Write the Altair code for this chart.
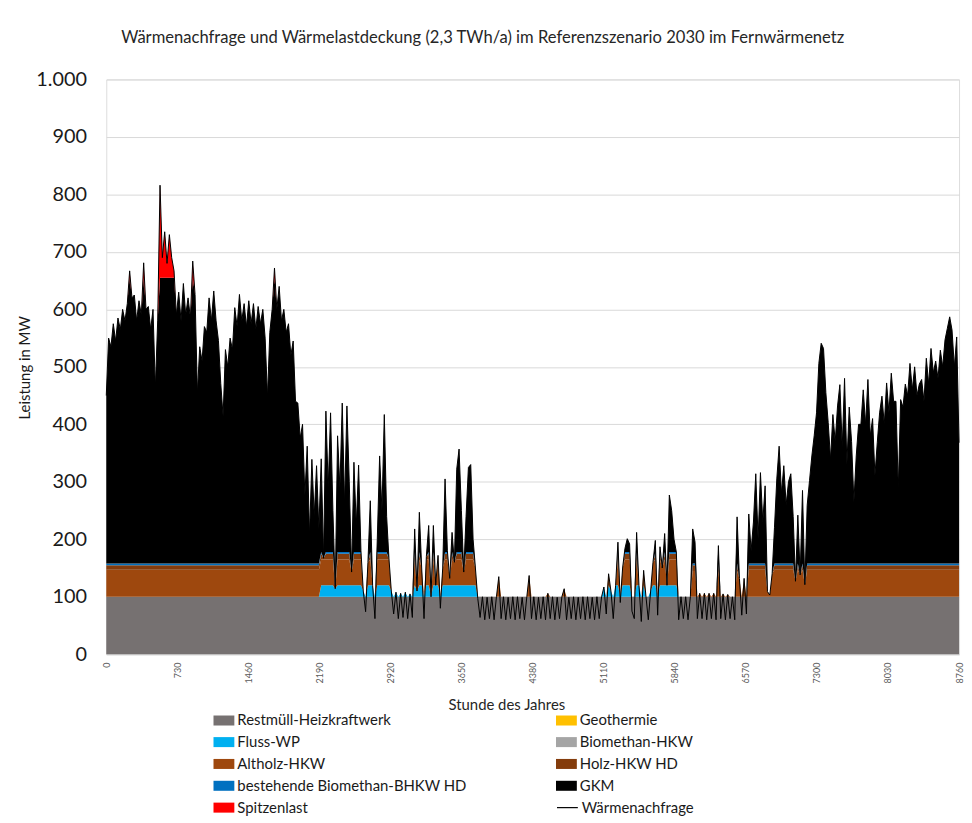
import altair as alt
import pandas as pd

# Heat demand (MW), one value per day (hour = 24 * day index)
demand = [
    450, 550, 535, 575, 545, 585, 565, 600, 580, 610, 667, 620, 625, 580, 615, 590, 681, 600, 605, 565, 600, 463, 580, 816, 690, 735, 680, 730, 690, 667,
    590, 630, 580, 645, 590, 620, 585, 684, 626, 454, 535, 510, 570, 560, 620, 580, 632, 580, 546, 471, 414, 530, 500, 550, 530, 603, 570, 626, 580, 610,
    570, 615, 575, 610, 565, 605, 575, 600, 550, 448, 560, 600, 672, 600, 640, 580, 600, 560, 575, 520, 545, 440, 437, 376, 400, 276, 362, 207, 339, 241,
    328, 218, 340, 167, 423, 290, 420, 250, 114, 380, 290, 437, 260, 432, 300, 143, 334, 224, 329, 180, 110, 74, 160, 267, 120, 62, 200, 345, 250, 417,
    240, 166, 110, 70, 108, 62, 106, 64, 108, 62, 105, 64, 218, 110, 247, 150, 62, 170, 224, 100, 224, 120, 172, 80, 150, 305, 180, 132, 212, 160,
    322, 357, 250, 143, 240, 325, 330, 200, 150, 97, 64, 100, 60, 99, 62, 100, 60, 100, 135, 62, 100, 60, 99, 62, 100, 60, 100, 62, 99, 60,
    100, 137, 62, 100, 60, 99, 62, 100, 60, 106, 62, 100, 60, 99, 62, 100, 114, 60, 99, 62, 100, 60, 99, 62, 100, 60, 100, 62, 99, 60,
    100, 62, 100, 117, 70, 140, 110, 62, 120, 195, 90, 150, 184, 201, 192, 75, 62, 212, 120, 57, 146, 100, 60, 110, 160, 198, 68, 187, 150, 210,
    120, 277, 250, 200, 178, 60, 100, 62, 100, 60, 100, 218, 195, 62, 106, 62, 106, 60, 106, 62, 106, 60, 189, 62, 105, 60, 104, 62, 100, 60,
    239, 132, 68, 132, 70, 244, 180, 230, 314, 200, 316, 230, 293, 109, 103, 140, 220, 305, 362, 280, 328, 260, 300, 314, 240, 127, 242, 138, 285, 121,
    259, 302, 345, 380, 420, 506, 541, 532, 455, 403, 339, 417, 370, 432, 469, 360, 480, 330, 430, 370, 265, 345, 400, 400, 460, 400, 478, 380, 410, 311,
    368, 420, 449, 400, 472, 420, 489, 440, 440, 288, 443, 430, 470, 450, 506, 460, 500, 450, 470, 478, 440, 515, 470, 532, 490, 510, 480, 529, 500, 547,
    567, 587, 564, 500, 552, 368,
]
hours = [24 * i for i in range(len(demand))]

# Capacities (MW) of the supply units per period of the year
period_start = [0, 2190, 3820, 5110, 5900, 6600]
restmuell_cap = [100, 100, 100, 100, 100, 100]
fluss_cap = [0, 20, 0, 20, 0, 0]
altholz_cap = [47, 45, 45, 45, 45, 47]
holz_cap = [8, 10, 10, 10, 10, 8]
biomethan_bhkw_cap = [3, 3, 3, 3, 3, 3]
gkm_cap = [497, 497, 497, 497, 497, 497]

# legend entries, listed column by column (left column first)
legend_order = [
    "Restmüll-Heizkraftwerk", "Fluss-WP", "Altholz-HKW",
    "bestehende Biomethan-BHKW HD", "Spitzenlast",
    "Geothermie", "Biomethan-HKW", "Holz-HKW HD", "GKM",
]
legend_colors = [
    "#767171", "#00B0F0", "#9E480E",
    "#0070C0", "#FF0000",
    "#FFC000", "#A5A5A5", "#843C0C", "#000000",
]
demand_label = "Wärmenachfrage"

rows = []
for h, d in zip(hours, demand):
    p = max(i for i, s in enumerate(period_start) if s <= h)
    units = [
        ("Restmüll-Heizkraftwerk", restmuell_cap[p]),
        ("Fluss-WP", fluss_cap[p]),
        ("Altholz-HKW", altholz_cap[p]),
        ("Holz-HKW HD", holz_cap[p]),
        ("bestehende Biomethan-BHKW HD", biomethan_bhkw_cap[p]),
        ("GKM", gkm_cap[p]),
        ("Spitzenlast", 10000),
    ]
    lo = 0
    for k, (name, cap) in enumerate(units):
        if k == 0:
            val = cap
        else:
            val = min(cap, max(0, d - lo))
        rows.append({"hour": h, "layer": name, "lo": lo, "hi": lo + val})
        lo += val

stack_df = pd.DataFrame(rows)
demand_df = pd.DataFrame({"hour": hours, "demand": demand, "series": [demand_label] * len(hours)})

FONT = "Lato"

x_axis = alt.Axis(
    values=[0, 730, 1460, 2190, 2920, 3650, 4380, 5110, 5840, 6570, 7300, 8030, 8760],
    format="d",
    labelAngle=270, labelFontSize=9, labelColor="#595959", labelFont=FONT,
    labelPadding=8, ticks=False, grid=False, domainColor="#D9D9D9",
    title="Stunde  des Jahres", titleFont=FONT, titleFontSize=15, titleFontWeight="normal",
    titleColor="#262626", titleX=403, titleY=51, titleBaseline="middle", titleAlign="center",
)
y_axis = alt.Axis(
    values=[0, 100, 200, 300, 400, 500, 600, 700, 800, 900, 1000],
    labelExpr="replace(format(datum.value, ','), ',', '.')",
    labelFontSize=20, labelFont=FONT, labelColor="#1a1a1a", labelPadding=20,
    ticks=False, domain=False, grid=True, gridColor="#D9D9D9",
    title="Leistung in MW", titleFont=FONT, titleFontSize=15, titleFontWeight="normal",
    titleColor="#1a1a1a", titleAngle=270, titleX=-82, titleY=290,
    titleAlign="center", titleBaseline="middle",
)

rect_path = "M-1,-0.48L1,-0.48L1,0.48L-1,0.48Z"
color_legend = alt.Legend(
    title=None, orient="none", legendX=108, legendY=635, columns=2,
    columnPadding=89, rowPadding=3, labelFont=FONT, labelFontSize=15,
    labelColor="#1a1a1a", labelLimit=400, labelOffset=3, symbolSize=441,
    symbolType=rect_path, symbolStrokeWidth=0, symbolOpacity=1, padding=0,
)
line_legend = alt.Legend(
    title=None, orient="none", legendX=453, legendY=722, labelFont=FONT,
    labelFontSize=15, labelColor="#1a1a1a", labelOffset=3, symbolSize=441,
    symbolType="stroke", symbolStrokeWidth=1.2, padding=0,
)

areas = alt.Chart(stack_df).mark_area(interpolate="linear", opacity=1).encode(
    x=alt.X("hour:Q", scale=alt.Scale(domain=[0, 8760], nice=False, zero=False), axis=x_axis),
    y=alt.Y("lo:Q", scale=alt.Scale(domain=[0, 1000], nice=False), axis=y_axis),
    y2="hi:Q",
    color=alt.Color("layer:N", scale=alt.Scale(domain=legend_order, range=legend_colors), legend=color_legend),
)

line = alt.Chart(demand_df).mark_line(strokeWidth=1, interpolate="linear").encode(
    x="hour:Q",
    y="demand:Q",
    stroke=alt.Stroke("series:N", scale=alt.Scale(domain=[demand_label], range=["#000000"]), legend=line_legend),
)

chart = alt.layer(areas, line).properties(
    width=859,
    height=579,
    title=alt.TitleParams(
        text="Wärmenachfrage und Wärmelastdeckung (2,3 TWh/a) im Referenzszenario 2030 im Fernwärmenetz",
        anchor="start", frame="group", dx=15, offset=23, font=FONT, fontSize=16.7, fontWeight="normal",
        color="#262626",
    ),
    autosize=alt.AutoSizeParams(type="none"),
    padding={"left": 99, "top": 69, "right": 5, "bottom": 166},
).configure_view(stroke=None).configure(background="white")

chart.save("out.html", embed_options={"renderer": "svg", "actions": False})
